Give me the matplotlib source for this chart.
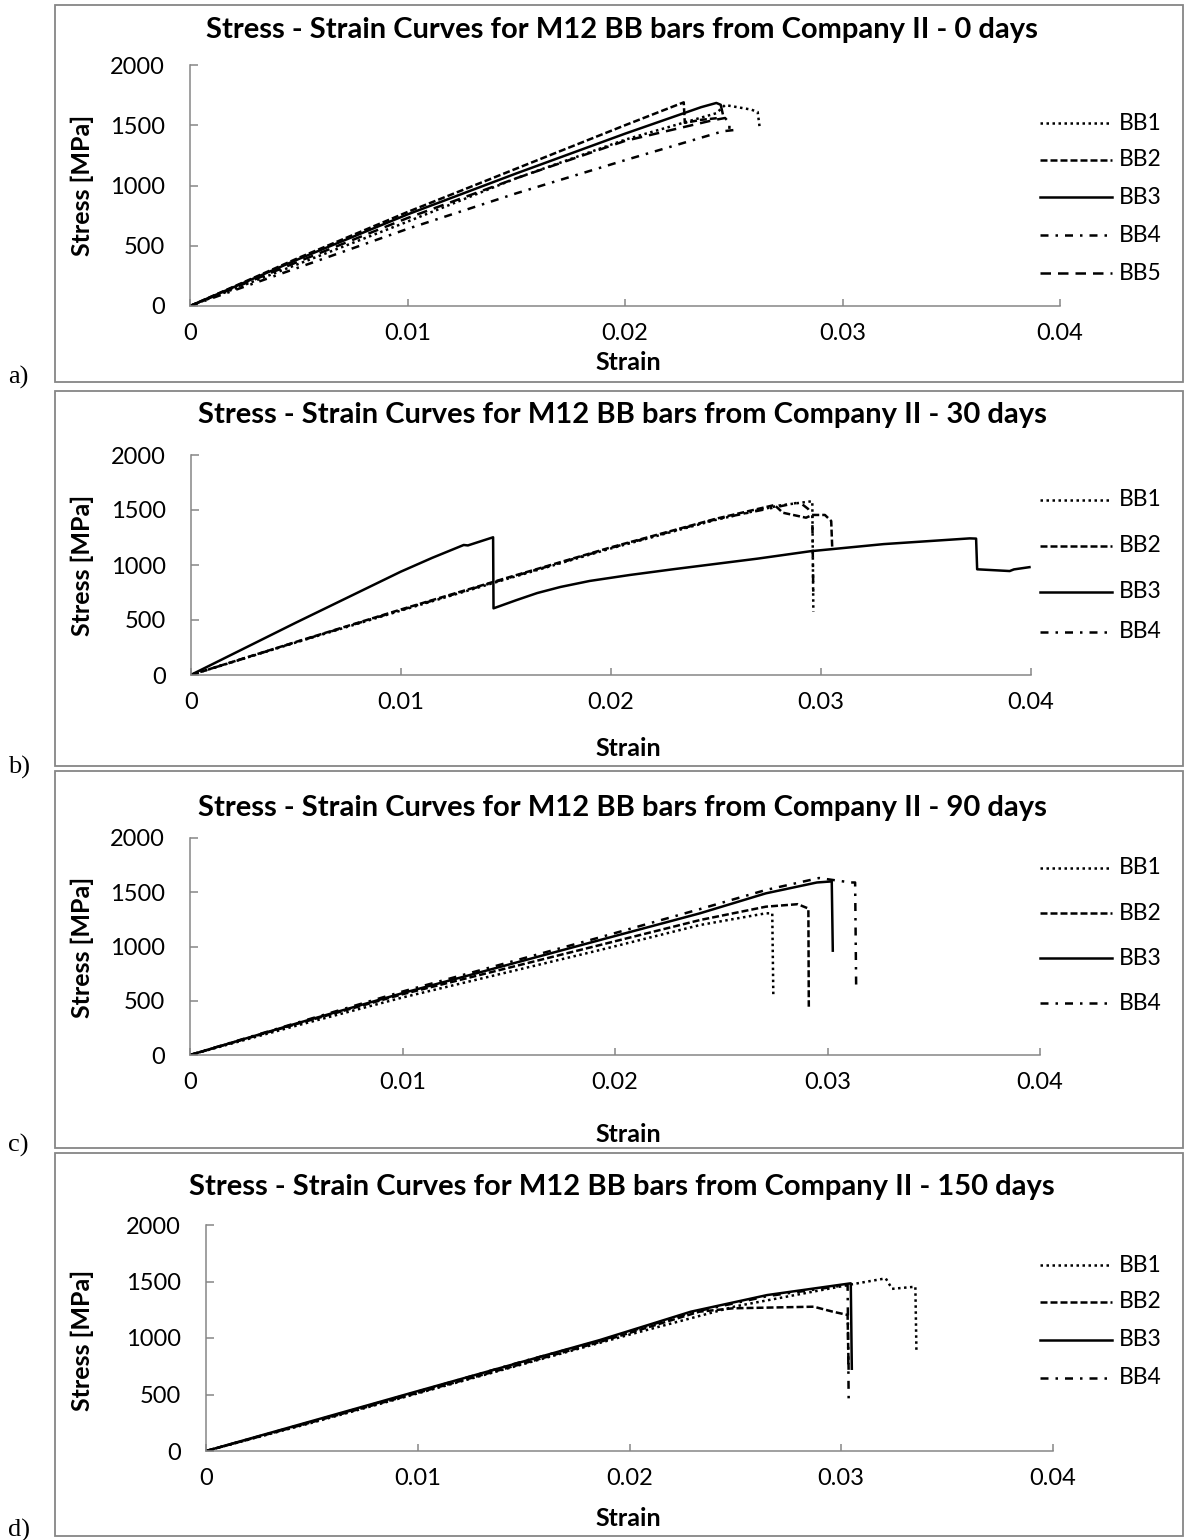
import matplotlib
matplotlib.use("Agg")
import matplotlib.pyplot as plt
from matplotlib.lines import Line2D
from matplotlib.patches import Rectangle

W, H = 1186, 1540

# ---- data: strain / stress [MPa] per bar ----
# a) 0 days
a_bb1_strain = [0, 0.005, 0.010, 0.015, 0.020, 0.0242, 0.0246, 0.0258, 0.0261, 0.0262]
a_bb1_stress = [0, 350, 700, 1060, 1380, 1600, 1668, 1630, 1610, 1470]
a_bb2_strain = [0, 0.005, 0.010, 0.015, 0.020, 0.0227, 0.02275, 0.0235, 0.0243]
a_bb2_stress = [0, 400, 780, 1140, 1500, 1690, 1520, 1545, 1560]
a_bb3_strain = [0, 0.005, 0.010, 0.015, 0.020, 0.0235, 0.0242, 0.0244, 0.0245]
a_bb3_stress = [0, 390, 760, 1100, 1430, 1650, 1685, 1670, 1590]
a_bb4_strain = [0, 0.005, 0.010, 0.015, 0.020, 0.0245, 0.0250]
a_bb4_stress = [0, 320, 640, 935, 1210, 1450, 1460]
a_bb5_strain = [0, 0.005, 0.010, 0.015, 0.020, 0.0240, 0.0246, 0.0248, 0.0248]
a_bb5_stress = [0, 370, 730, 1060, 1370, 1540, 1560, 1520, 1470]

# b) 30 days
b_bb1_strain = [0, 0.005, 0.010, 0.015, 0.020, 0.025, 0.028, 0.0296, 0.02965]
b_bb1_stress = [0, 295, 585, 870, 1150, 1410, 1540, 1580, 575]
b_bb2_strain = [0, 0.005, 0.010, 0.015, 0.020, 0.025, 0.0278, 0.0282, 0.0293, 0.0296, 0.0302, 0.0305, 0.03055]
b_bb2_stress = [0, 300, 595, 880, 1160, 1420, 1545, 1475, 1430, 1455, 1455, 1400, 1150]
b_bb3_strain = [0, 0.005, 0.010, 0.0115, 0.013, 0.0132, 0.0144, 0.01442, 0.0155, 0.0165, 0.0176,
                0.019, 0.0209, 0.023, 0.025, 0.027, 0.0295, 0.033, 0.0371, 0.0374, 0.03745,
                0.039, 0.0392, 0.040]
b_bb3_stress = [0, 475, 939, 1065, 1182, 1178, 1252, 606, 680, 745, 800,
                855, 909, 962, 1010, 1058, 1125, 1190, 1242, 1240, 961,
                945, 960, 982]
b_bb4_strain = [0, 0.005, 0.010, 0.015, 0.020, 0.025, 0.0290, 0.0294, 0.0296, 0.02965]
b_bb4_stress = [0, 298, 590, 875, 1155, 1415, 1570, 1510, 1450, 700]

# c) 90 days
c_bb1_strain = [0, 0.005, 0.010, 0.0193, 0.024, 0.0271, 0.0274, 0.02745]
c_bb1_stress = [0, 270, 530, 968, 1198, 1306, 1306, 560]
c_bb2_strain = [0, 0.005, 0.010, 0.0193, 0.024, 0.0271, 0.0286, 0.0291, 0.02912]
c_bb2_stress = [0, 285, 560, 1014, 1244, 1367, 1390, 1350, 445]
c_bb3_strain = [0, 0.005, 0.010, 0.0193, 0.024, 0.0271, 0.0295, 0.0302, 0.03025]
c_bb3_stress = [0, 290, 570, 1060, 1306, 1490, 1590, 1600, 950]
c_bb4_strain = [0, 0.005, 0.010, 0.0193, 0.024, 0.0271, 0.0296, 0.0311, 0.0313, 0.03135]
c_bb4_stress = [0, 295, 585, 1085, 1345, 1521, 1631, 1590, 1590, 600]

# d) 150 days
d_bb1_strain = [0, 0.005, 0.010, 0.015, 0.020, 0.025, 0.0305, 0.0321, 0.0324, 0.0335, 0.03355]
d_bb1_stress = [0, 250, 510, 770, 1030, 1280, 1475, 1528, 1435, 1454, 890]
d_bb2_strain = [0, 0.005, 0.010, 0.015, 0.0186, 0.0233, 0.0249, 0.0287, 0.0296, 0.0303, 0.03035]
d_bb2_stress = [0, 255, 515, 775, 965, 1233, 1263, 1277, 1233, 1204, 700]
d_bb3_strain = [0, 0.005, 0.010, 0.0186, 0.0229, 0.0265, 0.03045, 0.0305]
d_bb3_stress = [0, 265, 530, 982, 1233, 1380, 1484, 717]
d_bb4_strain = [0, 0.005, 0.010, 0.015, 0.0186, 0.0229, 0.0265, 0.0303, 0.03035]
d_bb4_stress = [0, 260, 525, 795, 975, 1225, 1370, 1470, 460]

labels = ["BB1", "BB2", "BB3", "BB4", "BB5"]
ages = ["0 days", "30 days", "90 days", "150 days"]
x_ticks = [0, 0.01, 0.02, 0.03, 0.04]
x_ticklabels = ["0", "0.01", "0.02", "0.03", "0.04"]
y_ticks = [0, 500, 1000, 1500, 2000]

panels = [
    [(a_bb1_strain, a_bb1_stress), (a_bb2_strain, a_bb2_stress), (a_bb3_strain, a_bb3_stress),
     (a_bb4_strain, a_bb4_stress), (a_bb5_strain, a_bb5_stress)],
    [(b_bb1_strain, b_bb1_stress), (b_bb2_strain, b_bb2_stress), (b_bb3_strain, b_bb3_stress),
     (b_bb4_strain, b_bb4_stress)],
    [(c_bb1_strain, c_bb1_stress), (c_bb2_strain, c_bb2_stress), (c_bb3_strain, c_bb3_stress),
     (c_bb4_strain, c_bb4_stress)],
    [(d_bb1_strain, d_bb1_stress), (d_bb2_strain, d_bb2_stress), (d_bb3_strain, d_bb3_stress),
     (d_bb4_strain, d_bb4_stress)],
]

# ---- styling ----
FONT = "Lato"
plt.rcParams["font.family"] = [FONT, "DejaVu Sans"]
GRAY = "#868686"
LW = 1.8
styles = [
    dict(linestyle=(0, (1, 1.4))),
    dict(linestyle=(0, (2.8, 1.2))),
    dict(linestyle="-"),
    dict(linestyle=(0, (3.2, 2.8, 1, 2.8))),
    dict(linestyle=(0, (4.2, 2.8))),
]

# layout in pixels: axes box (left, right, y of 2000, y of 0), frame (top, bottom),
# title y, y-label centre, x-label y, legend row ys, panel letter y
layout = [
    dict(ax=(190, 1060, 65, 306), frame=(5, 382), title=30, ylab=185, xlab=362,
         leg=[123, 160, 197, 235, 273], letter=377, tag="a)"),
    dict(ax=(190.7, 1030.7, 455, 675), frame=(391, 766), title=415, ylab=565, xlab=748,
         leg=[500, 546, 592, 632], letter=767, tag="b)"),
    dict(ax=(190, 1040, 838, 1055), frame=(771, 1148), title=808, ylab=947, xlab=1135,
         leg=[868, 913, 958, 1003], letter=1145, tag="c)"),
    dict(ax=(206, 1053, 1225, 1451), frame=(1153, 1536), title=1187, ylab=1340, xlab=1518,
         leg=[1265, 1302, 1340, 1378], letter=1530, tag="d)"),
]

fig = plt.figure(figsize=(W / 100, H / 100), dpi=100)


def fx(px):
    return px / W


def fy(py):
    return 1 - py / H


for series, lay, age in zip(panels, layout, ages):
    top, bot = lay["frame"]
    fig.patches.append(Rectangle((fx(55), fy(bot)), fx(1183) - fx(55), fy(top) - fy(bot),
                                 transform=fig.transFigure, fill=False, edgecolor=GRAY,
                                 linewidth=1.3))
    l, r, t, b = lay["ax"]
    ax = fig.add_axes([fx(l), fy(b), fx(r) - fx(l), fy(t) - fy(b)])
    for (xs, ys), st in zip(series, styles):
        ax.plot(xs, ys, color="black", linewidth=LW, solid_capstyle="butt",
                dash_capstyle="butt", **st)
    ax.set_xlim(0, 0.04)
    ax.set_ylim(0, 2000)
    ax.set_xticks(x_ticks)
    ax.set_xticklabels(x_ticklabels)
    ax.set_yticks(y_ticks)
    for side in ("top", "right"):
        ax.spines[side].set_visible(False)
    for side in ("left", "bottom"):
        ax.spines[side].set_color(GRAY)
        ax.spines[side].set_linewidth(1.1)
    ax.tick_params(axis="both", direction="in", color=GRAY, width=1.1, labelsize=17)
    ax.tick_params(axis="x", length=5, pad=12)
    ax.tick_params(axis="y", length=5.5, pad=18)
    ax.patch.set_alpha(0)

    fig.text(fx(622), fy(lay["title"]), f"Stress - Strain Curves for M12 BB bars from Company II - {age}",
             ha="center", va="center", fontsize=21, fontweight="bold")
    fig.text(fx(82), fy(lay["ylab"]), "Stress [MPa]", rotation=90, ha="center", va="center",
             fontsize=18, fontweight="bold")
    fig.text(fx(628), fy(lay["xlab"]), "Strain", ha="center", va="center",
             fontsize=18, fontweight="bold")
    fig.text(fx(8), fy(lay["letter"]), lay["tag"], ha="left", va="center",
             fontsize=19, family=["Liberation Serif", "DejaVu Serif"])

    # legend
    for yy, st, lab in zip(lay["leg"], styles, labels[:len(series)]):
        fig.lines.append(Line2D([fx(1040), fx(1112)], [fy(yy), fy(yy)], transform=fig.transFigure,
                                color="black", linewidth=LW, dash_capstyle="butt", **st))
        fig.text(fx(1119), fy(yy), lab, ha="left", va="center", fontsize=16.5)

fig.savefig("out.png", dpi=100, facecolor="white")
